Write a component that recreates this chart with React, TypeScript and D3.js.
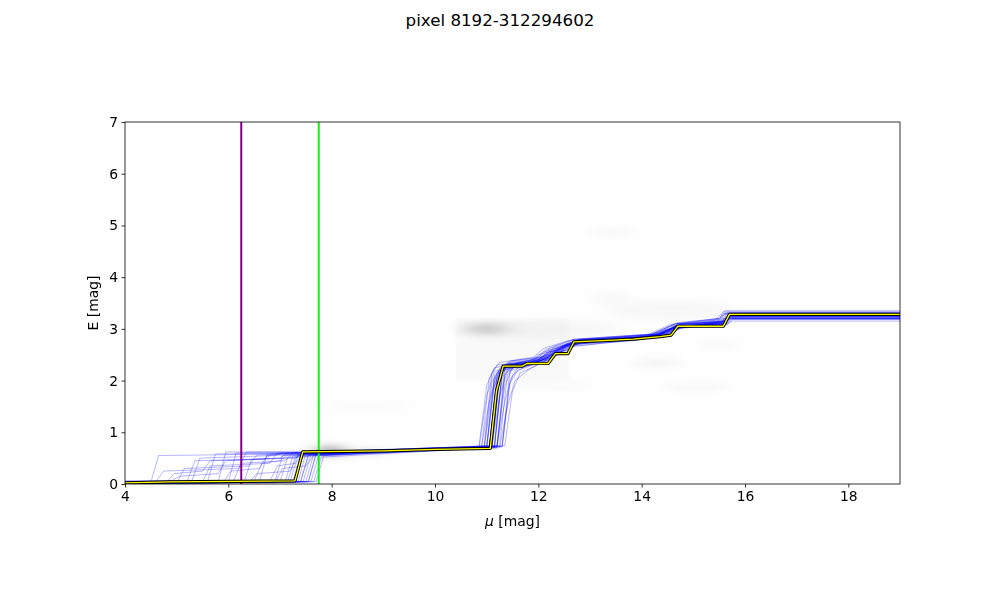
import { useRef, useEffect } from "react";
import * as d3 from "d3";

// distance modulus grid and axis ticks
const xTicks = [4, 6, 8, 10, 12, 14, 16, 18];
const yTicks = [0, 1, 2, 3, 4, 5, 6, 7];
const titleText = "pixel 8192-312294602";

// vertical markers (mu)
const purpleMu = 6.25;
const greenMu = 7.75;

// best fit reddening profile [mu, E]
const bestFit = [
  [4.0, 0.02], [4.87, 0.04], [7.29, 0.06], [7.44, 0.62], [9.0, 0.64], [10.0, 0.67],
  [11.07, 0.69], [11.19, 1.8], [11.32, 2.28], [11.69, 2.28], [11.78, 2.33], [12.19, 2.33],
  [12.33, 2.52], [12.57, 2.52], [12.69, 2.75], [13.84, 2.8], [14.36, 2.85], [14.57, 2.88],
  [14.7, 3.05], [15.58, 3.05], [15.7, 3.28], [19.0, 3.28],
];

// sample profiles [mu, E]
const samples = [
  [[4,0.02],[6.9,0.04],[7.05,0.55],[9,0.62],[10.9,0.72],[11.05,1.6],[11.2,2.15],[11.7,2.3],[12.3,2.45],[12.6,2.7],[13.8,2.8],[14.4,2.9],[14.6,3.05],[15.5,3.1],[15.65,3.22],[19,3.22]],
  [[4,0.01],[5.0,0.02],[5.15,0.3],[6.4,0.35],[6.55,0.56],[9,0.63],[11.1,0.75],[11.25,2.0],[11.4,2.3],[12.0,2.4],[12.2,2.55],[12.8,2.72],[14.0,2.82],[14.5,3.0],[15.6,3.15],[15.7,3.3],[19,3.3]],
  [[4,0.03],[7.4,0.05],[7.55,0.58],[10,0.68],[11.2,0.7],[11.35,2.1],[11.5,2.28],[12.1,2.35],[12.3,2.55],[12.7,2.78],[14.2,2.85],[14.65,3.1],[15.6,3.12],[15.7,3.25],[19,3.25]],
  [[4,0.0],[6.0,0.03],[6.15,0.6],[8,0.6],[10.5,0.7],[10.85,0.72],[11.0,1.9],[11.15,2.25],[11.8,2.35],[12.0,2.5],[12.5,2.62],[12.7,2.75],[14.3,2.9],[14.8,3.1],[15.4,3.15],[15.6,3.35],[19,3.35]],
  [[4,0.02],[7.2,0.06],[7.35,0.55],[9.5,0.65],[11.3,0.72],[11.45,1.95],[11.6,2.2],[12.2,2.4],[12.6,2.65],[13.5,2.75],[14.5,2.88],[14.75,3.05],[15.65,3.08],[15.75,3.18],[19,3.18]],
  [[4,0.05],[4.9,0.06],[5.05,0.15],[5.8,0.2],[5.95,0.45],[7.0,0.5],[7.15,0.6],[10,0.7],[11.0,0.73],[11.15,2.05],[11.3,2.3],[11.9,2.4],[12.15,2.6],[12.7,2.75],[14.0,2.82],[14.5,2.95],[14.7,3.1],[15.5,3.18],[15.6,3.28],[19,3.28]],
  [[4,0.01],[7.6,0.05],[7.75,0.56],[10,0.66],[11.15,0.7],[11.3,2.2],[11.45,2.32],[12.2,2.38],[12.35,2.55],[12.6,2.58],[12.75,2.78],[14.5,2.9],[14.7,3.05],[15.6,3.1],[15.7,3.27],[19,3.27]],
  [[4,0.02],[5.5,0.04],[5.65,0.35],[6.8,0.4],[6.95,0.6],[9,0.64],[10.95,0.68],[11.1,1.75],[11.25,2.2],[11.7,2.28],[12.0,2.45],[12.6,2.6],[12.8,2.8],[14.2,2.85],[14.6,3.0],[15.4,3.1],[15.55,3.2],[19,3.2]],
  [[4,0.03],[7.0,0.05],[7.15,0.52],[9,0.6],[10.8,0.7],[11.2,0.75],[11.35,1.9],[11.5,2.25],[12.3,2.45],[12.5,2.7],[14.4,2.9],[14.8,3.05],[15.65,3.15],[15.75,3.3],[19,3.3]],
  [[4,0.0],[6.6,0.04],[6.75,0.58],[10,0.68],[11.05,0.71],[11.2,2.0],[11.35,2.3],[11.8,2.32],[12.25,2.5],[12.7,2.75],[13.9,2.8],[14.6,2.95],[14.75,3.1],[15.6,3.12],[15.7,3.24],[19,3.24]],
  [[4,0.04],[4.6,0.05],[4.75,0.25],[6.2,0.3],[6.35,0.62],[9.5,0.66],[11.1,0.7],[11.25,2.15],[11.4,2.35],[12.0,2.42],[12.3,2.62],[12.9,2.78],[14.3,2.86],[14.7,3.02],[15.5,3.12],[15.65,3.3],[19,3.3]],
  [[4,0.02],[7.3,0.05],[7.45,0.6],[10,0.67],[11.05,0.69],[11.2,1.85],[11.32,2.28],[11.75,2.3],[12.2,2.33],[12.35,2.52],[12.6,2.52],[12.7,2.76],[13.9,2.8],[14.4,2.85],[14.6,2.88],[14.72,3.05],[15.6,3.05],[15.72,3.28],[19,3.28]],
  [[4,0.01],[6.3,0.03],[6.45,0.48],[7.5,0.52],[7.65,0.6],[10,0.7],[11.25,0.74],[11.4,2.1],[11.55,2.3],[12.1,2.42],[12.45,2.68],[13.8,2.78],[14.5,2.92],[14.7,3.08],[15.6,3.15],[15.7,3.22],[19,3.22]],
  [[4,0.02],[7.5,0.04],[7.65,0.57],[9.5,0.63],[10.95,0.69],[11.1,1.95],[11.25,2.22],[11.9,2.36],[12.1,2.55],[12.65,2.72],[14.1,2.85],[14.55,3.05],[15.5,3.18],[15.65,3.32],[19,3.32]],
  [[4,0.06],[5.3,0.07],[5.45,0.5],[6.9,0.55],[7.05,0.6],[9.8,0.67],[11.0,0.72],[11.15,2.1],[11.3,2.26],[12.0,2.38],[12.2,2.55],[12.75,2.74],[14.3,2.87],[14.65,3.02],[15.6,3.1],[15.7,3.2],[19,3.2]],
  [[4,0.01],[7.1,0.04],[7.25,0.55],[10,0.68],[11.2,0.73],[11.35,2.25],[11.5,2.38],[12.1,2.45],[12.3,2.65],[12.7,2.8],[14.2,2.9],[14.7,3.12],[15.5,3.2],[15.6,3.3],[19,3.3]],
  [[4,0.03],[6.8,0.05],[6.95,0.35],[7.3,0.4],[7.45,0.58],[10,0.67],[11.1,0.71],[11.25,1.7],[11.4,2.18],[11.85,2.3],[12.3,2.5],[12.65,2.7],[13.9,2.78],[14.6,2.9],[14.8,3.08],[15.65,3.12],[15.75,3.22],[19,3.22]],
  [[4,0.02],[7.7,0.05],[7.85,0.55],[10,0.66],[10.9,0.7],[11.05,2.05],[11.2,2.3],[11.7,2.36],[12.2,2.5],[12.55,2.68],[14.0,2.84],[14.55,3.0],[15.6,3.14],[15.7,3.26],[19,3.26]],
  [[4,0.0],[5.8,0.02],[5.95,0.62],[8,0.6],[10,0.69],[11.15,0.72],[11.3,2.05],[11.45,2.3],[12.2,2.4],[12.4,2.62],[12.8,2.78],[14.4,2.9],[14.75,3.05],[15.65,3.1],[15.75,3.3],[19,3.3]],
  [[4,0.02],[7.4,0.04],[7.55,0.55],[9.5,0.64],[11.0,0.7],[11.15,1.9],[11.3,2.24],[11.8,2.33],[12.25,2.5],[12.6,2.55],[12.75,2.75],[14.2,2.86],[14.65,3.04],[15.55,3.1],[15.7,3.25],[19,3.25]],
  [[4,0.04],[6.5,0.06],[6.65,0.4],[7.0,0.45],[7.15,0.56],[10,0.68],[11.3,0.73],[11.45,2.0],[11.6,2.25],[12.1,2.36],[12.35,2.6],[12.9,2.76],[14.3,2.85],[14.6,3.0],[15.6,3.16],[15.7,3.18],[19,3.18]],
  [[4,0.01],[7.55,0.05],[7.7,0.6],[10,0.7],[11.1,0.72],[11.25,2.12],[11.4,2.32],[12.0,2.4],[12.2,2.58],[12.7,2.74],[14.0,2.82],[14.5,2.95],[14.7,3.1],[15.6,3.14],[15.7,3.28],[19,3.28]],
  [[4,0.02],[4.8,0.03],[4.95,0.2],[5.5,0.25],[5.65,0.45],[6.7,0.48],[6.85,0.58],[10,0.68],[11.05,0.71],[11.2,1.95],[11.35,2.27],[12.0,2.34],[12.3,2.55],[12.7,2.72],[14.3,2.88],[14.7,3.06],[15.55,3.12],[15.65,3.24],[19,3.24]],
  [[4,0.03],[7.25,0.06],[7.4,0.57],[9.5,0.65],[11.15,0.71],[11.3,2.2],[11.45,2.3],[11.9,2.32],[12.3,2.52],[12.65,2.78],[14.2,2.85],[14.6,3.0],[15.65,3.08],[15.75,3.15],[19,3.15]],
  [[4,0.02],[5.9,0.03],[6.05,0.25],[6.6,0.3],[6.75,0.55],[10,0.66],[11.2,0.72],[11.35,1.6],[11.5,2.1],[11.7,2.25],[12.2,2.45],[12.6,2.7],[14.3,2.88],[14.7,3.08],[15.6,3.15],[15.7,3.25],[19,3.25]],
  [[4,0.01],[7.65,0.04],[7.8,0.52],[10,0.64],[11.35,0.74],[11.5,1.8],[11.65,2.15],[12.1,2.35],[12.5,2.6],[12.9,2.76],[14.4,2.87],[14.8,3.02],[15.6,3.1],[15.7,3.2],[19,3.2]],
  [[4,0.03],[5.2,0.04],[5.35,0.45],[7.3,0.5],[7.45,0.62],[10,0.7],[10.95,0.73],[11.1,2.15],[11.25,2.35],[11.9,2.45],[12.1,2.62],[12.6,2.78],[14.1,2.88],[14.55,3.08],[15.5,3.2],[15.6,3.33],[19,3.33]],
  [[4,0.0],[6.9,0.02],[7.05,0.3],[7.5,0.35],[7.65,0.55],[10,0.65],[11.25,0.7],[11.4,1.5],[11.55,2.0],[11.8,2.2],[12.1,2.38],[12.5,2.58],[12.85,2.75],[14.4,2.86],[14.75,3.02],[15.65,3.1],[15.75,3.2],[19,3.2]],
  [[4,0.02],[4.5,0.03],[4.65,0.55],[7,0.58],[9.5,0.64],[11.05,0.7],[11.2,2.1],[11.35,2.3],[12.05,2.38],[12.3,2.6],[12.7,2.76],[14.2,2.84],[14.6,3.0],[15.55,3.12],[15.65,3.28],[19,3.28]],
  [[4,0.03],[7.45,0.05],[7.6,0.58],[10,0.69],[11.1,0.72],[11.25,2.05],[11.4,2.28],[11.95,2.35],[12.25,2.55],[12.65,2.74],[14.1,2.84],[14.6,3.02],[15.6,3.18],[15.7,3.31],[19,3.31]],
  [[4,0.01],[6.4,0.03],[6.55,0.2],[7.2,0.25],[7.35,0.57],[10,0.67],[11.2,0.71],[11.35,2.1],[11.5,2.32],[12.15,2.42],[12.4,2.62],[12.8,2.8],[14.3,2.9],[14.7,3.05],[15.6,3.1],[15.7,3.26],[19,3.26]],
  [[4,0.02],[7.35,0.04],[7.5,0.6],[9.5,0.66],[11.0,0.71],[11.15,2.0],[11.3,2.25],[11.85,2.3],[12.2,2.45],[12.4,2.5],[12.55,2.72],[14.0,2.83],[14.5,2.92],[14.68,3.07],[15.6,3.09],[15.7,3.24],[19,3.24]],
  [[4,0.04],[5.6,0.05],[5.75,0.58],[7.5,0.6],[10,0.7],[11.15,0.74],[11.3,2.15],[11.45,2.38],[12.0,2.45],[12.25,2.65],[12.7,2.8],[14.2,2.9],[14.65,3.1],[15.5,3.2],[15.6,3.3],[19,3.3]],
  [[4,0.02],[7.15,0.05],[7.3,0.54],[9.5,0.62],[10.85,0.68],[11.0,1.7],[11.15,2.18],[11.75,2.3],[12.15,2.42],[12.55,2.66],[13.9,2.78],[14.5,2.9],[14.7,3.04],[15.55,3.1],[15.68,3.2],[19,3.2]],
  [[4,0.01],[7.55,0.04],[7.7,0.58],[10,0.68],[11.05,0.7],[11.2,2.05],[11.35,2.3],[11.95,2.38],[12.25,2.55],[12.6,2.6],[12.75,2.78],[14.25,2.85],[14.62,3.04],[15.6,3.12],[15.7,3.29],[19,3.29]],
  [[4,0.05],[6.1,0.06],[6.25,0.4],[7.1,0.45],[7.25,0.6],[10,0.69],[11.3,0.73],[11.45,2.18],[11.6,2.35],[12.2,2.45],[12.45,2.65],[12.85,2.79],[14.35,2.9],[14.72,3.08],[15.55,3.15],[15.65,3.23],[19,3.23]],
];

// background stellar density blobs: [mu, E, halfWidthMu, halfHeightE, darkness]
const densityBlobs = [
  [10.97, 3.0, 0.4, 0.07, 0.3],
  [7.95, 0.64, 0.22, 0.06, 0.75],
  [8.6, 0.62, 0.6, 0.05, 0.12],
  [13.45, 4.87, 0.45, 0.07, 0.04],
  [13.4, 3.6, 0.45, 0.07, 0.045],
  [14.3, 2.34, 0.5, 0.07, 0.06],
  [15.1, 1.88, 0.7, 0.07, 0.045],
  [15.5, 2.7, 0.45, 0.07, 0.035],
  [8.7, 1.5, 1.0, 0.06, 0.03],
  [12.3, 3.0, 1.4, 0.18, 0.03],
  [14.6, 3.35, 1.3, 0.2, 0.03],
  [12.0, 1.9, 1.1, 0.1, 0.025],
];
// faint rectangular density block [mu0, mu1, E0, E1]
const densityBlock = [10.4, 12.6, 2.0, 3.2];

export default function App() {
  const svgRef = useRef(null);

  useEffect(() => {
    const svg = d3.select(svgRef.current);
    svg.selectAll("*").remove();

    const width = 1000;
    const height = 600;
    const m = { left: 125, right: 100, top: 122, bottom: 116 };

    const x = d3.scaleLinear().domain([4, 19]).range([m.left, width - m.right]);
    const y = d3.scaleLinear().domain([0, 7]).range([height - m.bottom, m.top]);

    const font = "DejaVu Sans, sans-serif";

    const defs = svg.append("defs");
    defs
      .append("clipPath")
      .attr("id", "plotclip")
      .append("rect")
      .attr("x", m.left)
      .attr("y", m.top)
      .attr("width", width - m.left - m.right)
      .attr("height", height - m.top - m.bottom);
    defs
      .append("filter")
      .attr("id", "blur")
      .attr("filterUnits", "userSpaceOnUse")
      .attr("x", 0)
      .attr("y", 0)
      .attr("width", width)
      .attr("height", height)
      .append("feGaussianBlur")
      .attr("stdDeviation", "11 4");
    defs
      .append("filter")
      .attr("id", "blur2")
      .append("feGaussianBlur")
      .attr("stdDeviation", "1.5");

    const plot = svg.append("g").attr("clip-path", "url(#plotclip)");

    // density background
    plot
      .append("rect")
      .attr("x", x(densityBlock[0]))
      .attr("y", y(densityBlock[3]))
      .attr("width", x(densityBlock[1]) - x(densityBlock[0]))
      .attr("height", y(densityBlock[2]) - y(densityBlock[3]))
      .attr("fill", "#000")
      .attr("opacity", 0.018)
      .attr("filter", "url(#blur2)");

    plot
      .append("g")
      .attr("filter", "url(#blur)")
      .selectAll("ellipse")
      .data(densityBlobs)
      .join("ellipse")
      .attr("cx", (d) => x(d[0]))
      .attr("cy", (d) => y(d[1]))
      .attr("rx", (d) => x(4 + d[2]) - x(4))
      .attr("ry", (d) => y(0) - y(d[3]))
      .attr("fill", "#000")
      .attr("opacity", (d) => d[4]);

    const line = d3
      .line()
      .x((d) => x(d[0]))
      .y((d) => y(d[1]));

    // samples
    plot
      .append("g")
      .selectAll("path")
      .data(samples)
      .join("path")
      .attr("d", (d) => line(d))
      .attr("fill", "none")
      .attr("stroke", "#0000ff")
      .attr("stroke-width", 0.9)
      .attr("stroke-opacity", 0.32);

    // markers
    [
      [purpleMu, "#800080"],
      [greenMu, "#00ff00"],
    ].forEach(([mu, c]) => {
      plot
        .append("line")
        .attr("x1", x(mu))
        .attr("x2", x(mu))
        .attr("y1", m.top)
        .attr("y2", height - m.bottom)
        .attr("stroke", c)
        .attr("stroke-width", 2);
    });

    // best fit
    plot
      .append("path")
      .attr("d", line(bestFit))
      .attr("fill", "none")
      .attr("stroke", "#000")
      .attr("stroke-width", 3.2)
      .attr("stroke-linejoin", "round");
    plot
      .append("path")
      .attr("d", line(bestFit))
      .attr("fill", "none")
      .attr("stroke", "#ffff00")
      .attr("stroke-width", 1.3)
      .attr("stroke-linejoin", "round");

    // axes
    const xAxis = svg
      .append("g")
      .attr("transform", `translate(0,${height - m.bottom})`)
      .call(
        d3.axisBottom(x).tickValues(xTicks).tickFormat(d3.format("d")).tickSize(3.5).tickPadding(3.5).tickSizeOuter(0)
      );
    const yAxis = svg
      .append("g")
      .attr("transform", `translate(${m.left},0)`)
      .call(
        d3.axisLeft(y).tickValues(yTicks).tickFormat(d3.format("d")).tickSize(3.5).tickPadding(3.5).tickSizeOuter(0)
      );
    [xAxis, yAxis].forEach((a) => {
      a.select(".domain").remove();
      a.selectAll("line").attr("stroke", "#000").attr("stroke-width", 0.8);
      a.selectAll("text").attr("font-family", font).attr("font-size", 13.9).attr("fill", "#000");
    });

    svg
      .append("rect")
      .attr("x", m.left)
      .attr("y", m.top)
      .attr("width", width - m.left - m.right)
      .attr("height", height - m.top - m.bottom)
      .attr("fill", "none")
      .attr("stroke", "#000")
      .attr("stroke-width", 0.8);

    // labels
    const xl = svg
      .append("text")
      .attr("x", (m.left + width - m.right) / 2)
      .attr("y", 526)
      .attr("text-anchor", "middle")
      .attr("font-family", font)
      .attr("font-size", 13.9);
    xl.append("tspan").attr("font-style", "italic").text("μ");
    xl.append("tspan").text(" [mag]");

    svg
      .append("text")
      .attr("transform", `translate(98,${(m.top + height - m.bottom) / 2}) rotate(-90)`)
      .attr("text-anchor", "middle")
      .attr("font-family", font)
      .attr("font-size", 13.9)
      .text("E [mag]");

    svg
      .append("text")
      .attr("x", width / 2)
      .attr("y", 26)
      .attr("text-anchor", "middle")
      .attr("font-family", font)
      .attr("font-size", 16.7)
      .text(titleText);
  }, []);

  return (
    <div style={{ position: "absolute", left: 0, top: 0, background: "#fff" }}>
      <svg ref={svgRef} width={1000} height={600} style={{ display: "block" }} />
    </div>
  );
}
